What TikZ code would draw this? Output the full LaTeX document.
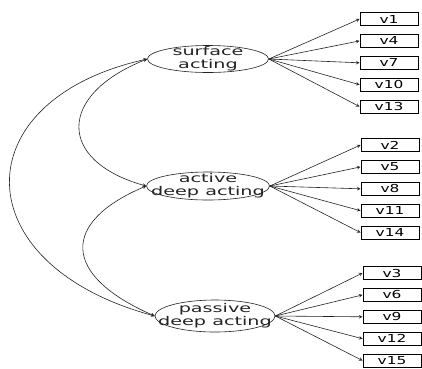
\documentclass[tikz,border=0pt]{standalone}
\usepackage{fontspec}
\setsansfont{DejaVu Sans}
\usepackage{graphicx}
\usepackage{tikz}
\usetikzlibrary{arrows,shapes,positioning}
\definecolor{semgray}{RGB}{35,35,35}
\newcommand{\ovaltext}[1]{\scalebox{1.6}[1]{\fontsize{12}{13}\selectfont\begin{tabular}{@{}c@{}}#1\end{tabular}}}
\newcommand{\boxtext}[1]{\scalebox{1.4}[1]{#1}}
\tikzstyle{arrow} = [->,>=stealth,line width=0.6pt,color=semgray]
\tikzstyle{covar} = [<->,>=stealth,line width=0.6pt,color=semgray]
\tikzstyle{latent} = [ellipse, draw=semgray, line width=0.6pt, minimum width=121pt, minimum height=27pt, inner sep=0pt]
\tikzstyle{indicator} = [rectangle, draw=black, line width=0.9pt, minimum width=58pt, minimum height=13pt, inner sep=0pt, font=\sffamily\fontsize{11}{12}\selectfont]

\begin{document}
\begin{tikzpicture}[x=1pt,y=-1pt]
\useasboundingbox (0,0) rectangle (422,368);

% Three factors
\node (sa) [latent, label={[font=\sffamily,text=semgray]center:\ovaltext{surface\\acting}}] at (208,59) {};
\node (ad) [latent, minimum width=123pt, minimum height=28pt, label={[font=\sffamily,text=semgray]center:\ovaltext{active\\deep acting}}] at (208,186) {};
\node (pd) [latent, minimum width=120pt, minimum height=32pt, label={[font=\sffamily,text=semgray]center:\ovaltext{passive\\deep acting}}] at (215,316) {};

% Items of surface acting
\node (v1) [indicator] at (389,19) {\boxtext{v1}};
\node (v4) [indicator, below=8pt of v1] {\boxtext{v4}};
\node (v7) [indicator, below=8pt of v4] {\boxtext{v7}};
\node (v10) [indicator, below=8pt of v7] {\boxtext{v10}};
\node (v13) [indicator, below=8pt of v10] {\boxtext{v13}};

% Items of active deep acting
\node (v2) [indicator] at (390,145) {\boxtext{v2}};
\node (v5) [indicator, below=8pt of v2] {\boxtext{v5}};
\node (v8) [indicator, below=8pt of v5] {\boxtext{v8}};
\node (v11) [indicator, below=8pt of v8] {\boxtext{v11}};
\node (v14) [indicator, below=8pt of v11] {\boxtext{v14}};

% Items of passive deep acting
\node (v3) [indicator] at (392,273) {\boxtext{v3}};
\node (v6) [indicator, below=8pt of v3] {\boxtext{v6}};
\node (v9) [indicator, below=8pt of v6] {\boxtext{v9}};
\node (v12) [indicator, below=8pt of v9] {\boxtext{v12}};
\node (v15) [indicator, below=8pt of v12] {\boxtext{v15}};

% Loadings
\draw[arrow] (sa.east) -- (v1.west);
\draw[arrow] (sa.east) -- (v4.west);
\draw[arrow] (sa.east) -- (v7.west);
\draw[arrow] (sa.east) -- (v10.west);
\draw[arrow] (sa.east) -- (v13.west);
\draw[arrow] (ad.east) -- (v2.west);
\draw[arrow] (ad.east) -- (v5.west);
\draw[arrow] (ad.east) -- (v8.west);
\draw[arrow] (ad.east) -- (v11.west);
\draw[arrow] (ad.east) -- (v14.west);
\draw[arrow] (pd.east) -- (v3.west);
\draw[arrow] (pd.east) -- (v6.west);
\draw[arrow] (pd.east) -- (v9.west);
\draw[arrow] (pd.east) -- (v12.west);
\draw[arrow] (pd.east) -- (v15.west);

% Correlations between factors
\draw[covar] (sa.west) .. controls (57,95) and (57,161) .. (ad.west);
\draw[covar] (ad.west) .. controls (61,222) and (61,275) .. (pd.west);
\draw[covar] (sa.west) .. controls (-37,100) and (-37,264) .. (pd.west);
\end{tikzpicture}
\end{document}
